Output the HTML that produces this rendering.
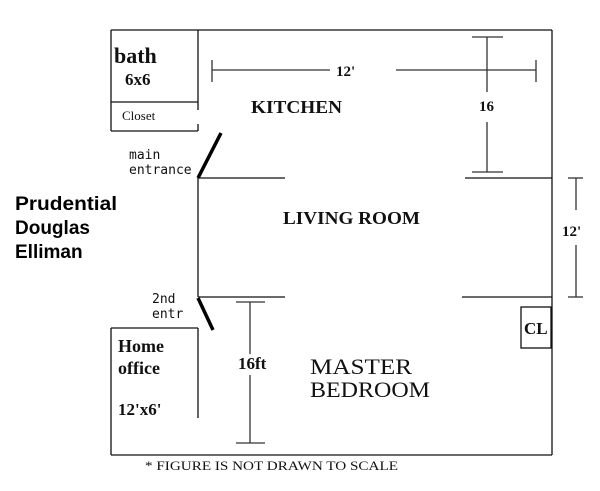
<!DOCTYPE html>
<html><head><style>
html,body{margin:0;padding:0;background:#fff;width:600px;height:491px;overflow:hidden}
svg{display:block}
.s{font-family:"Liberation Serif",serif;font-weight:bold;fill:#111}
.m{font-family:"DejaVu Sans Mono","Liberation Mono",monospace;fill:#111}
</style></head><body>
<svg width="600" height="491" viewBox="0 0 600 491" xmlns="http://www.w3.org/2000/svg">
<g stroke="#111" stroke-width="1.3" fill="none">
<line x1="111" y1="30" x2="198" y2="30"/>
<line x1="111" y1="30" x2="111" y2="131"/>
<line x1="111" y1="131" x2="198" y2="131"/>
<line x1="198" y1="30" x2="198" y2="110"/>
<line x1="198" y1="124" x2="198" y2="131"/>
<line x1="111" y1="102" x2="198" y2="102"/>
<line x1="198" y1="30" x2="552" y2="30"/>
<line x1="552" y1="30" x2="552" y2="455"/>
<line x1="198" y1="178" x2="285" y2="178"/>
<line x1="465" y1="178" x2="552" y2="178"/>
<line x1="198" y1="297" x2="285" y2="297"/>
<line x1="462" y1="297" x2="552" y2="297"/>
<line x1="198" y1="178" x2="198" y2="297"/>
<line x1="111" y1="328" x2="198" y2="328"/>
<line x1="111" y1="328" x2="111" y2="455"/>
<line x1="198" y1="328" x2="198" y2="418"/>
<line x1="111" y1="455" x2="552" y2="455"/>
<rect x="521" y="307" width="30" height="41"/>
</g>
<g stroke="#000" stroke-width="3.5">
<line x1="198" y1="178" x2="221" y2="133"/>
<line x1="198" y1="298" x2="213" y2="330"/>
</g>
<g stroke="#333" stroke-width="1.3">
<line x1="212" y1="70" x2="330" y2="70"/>
<line x1="396" y1="70" x2="536" y2="70"/>
<line x1="212" y1="60" x2="212" y2="82"/>
<line x1="536" y1="60" x2="536" y2="82"/>
<line x1="487" y1="37" x2="487" y2="92"/>
<line x1="487" y1="122" x2="487" y2="172"/>
<line x1="472" y1="37" x2="503" y2="37"/>
<line x1="472" y1="172" x2="503" y2="172"/>
<line x1="576" y1="178" x2="576" y2="210"/>
<line x1="576" y1="245" x2="576" y2="297"/>
<line x1="568" y1="178" x2="583" y2="178"/>
<line x1="568" y1="297" x2="583" y2="297"/>
<line x1="250" y1="302" x2="250" y2="354"/>
<line x1="250" y1="375" x2="250" y2="443"/>
<line x1="236" y1="302" x2="265" y2="302"/>
<line x1="236" y1="443" x2="265" y2="443"/>
</g>
<text class="s" x="114" y="63" font-size="22">bath</text>
<text class="s" x="125" y="85" font-size="17">6x6</text>
<text x="122" y="120" font-family="Liberation Serif,serif" font-size="13" fill="#111">Closet</text>
<text class="s" x="336" y="76" font-size="15">12'</text>
<text class="s" x="251" y="113" font-size="18" textLength="91" lengthAdjust="spacingAndGlyphs">KITCHEN</text>
<text class="s" x="479" y="111" font-size="15">16</text>
<text class="m" x="129" y="159" font-size="13">main</text>
<text class="m" x="129" y="174" font-size="13">entrance</text>
<text x="15" y="210" font-family="Liberation Sans,sans-serif" font-weight="bold" font-size="19" fill="#000" textLength="102" lengthAdjust="spacingAndGlyphs">Prudential</text>
<text x="15" y="234" font-family="Liberation Sans,sans-serif" font-weight="bold" font-size="19" fill="#000">Douglas</text>
<text x="15" y="258" font-family="Liberation Sans,sans-serif" font-weight="bold" font-size="19" fill="#000">Elliman</text>
<text class="s" x="283" y="224" font-size="18" textLength="137" lengthAdjust="spacingAndGlyphs">LIVING ROOM</text>
<text class="s" x="562" y="236" font-size="15">12'</text>
<text class="m" x="152" y="303" font-size="13">2nd</text>
<text class="m" x="152" y="318" font-size="13">entr</text>
<text class="s" x="118" y="352" font-size="18">Home</text>
<text class="s" x="118" y="374" font-size="18">office</text>
<text class="s" x="118" y="415" font-size="17">12'x6'</text>
<text class="s" x="238" y="369" font-size="17">16ft</text>
<text x="310" y="374" font-family="Liberation Serif,serif" font-size="22" fill="#111" textLength="102" lengthAdjust="spacingAndGlyphs">MASTER</text>
<text x="310" y="397" font-family="Liberation Serif,serif" font-size="22" fill="#111" textLength="120" lengthAdjust="spacingAndGlyphs">BEDROOM</text>
<text class="s" x="524" y="334" font-size="17">CL</text>
<text x="145" y="470" font-family="Liberation Serif,serif" font-size="13" fill="#111" textLength="253" lengthAdjust="spacingAndGlyphs">* FIGURE IS NOT DRAWN TO SCALE</text>
</svg>
</body></html>
